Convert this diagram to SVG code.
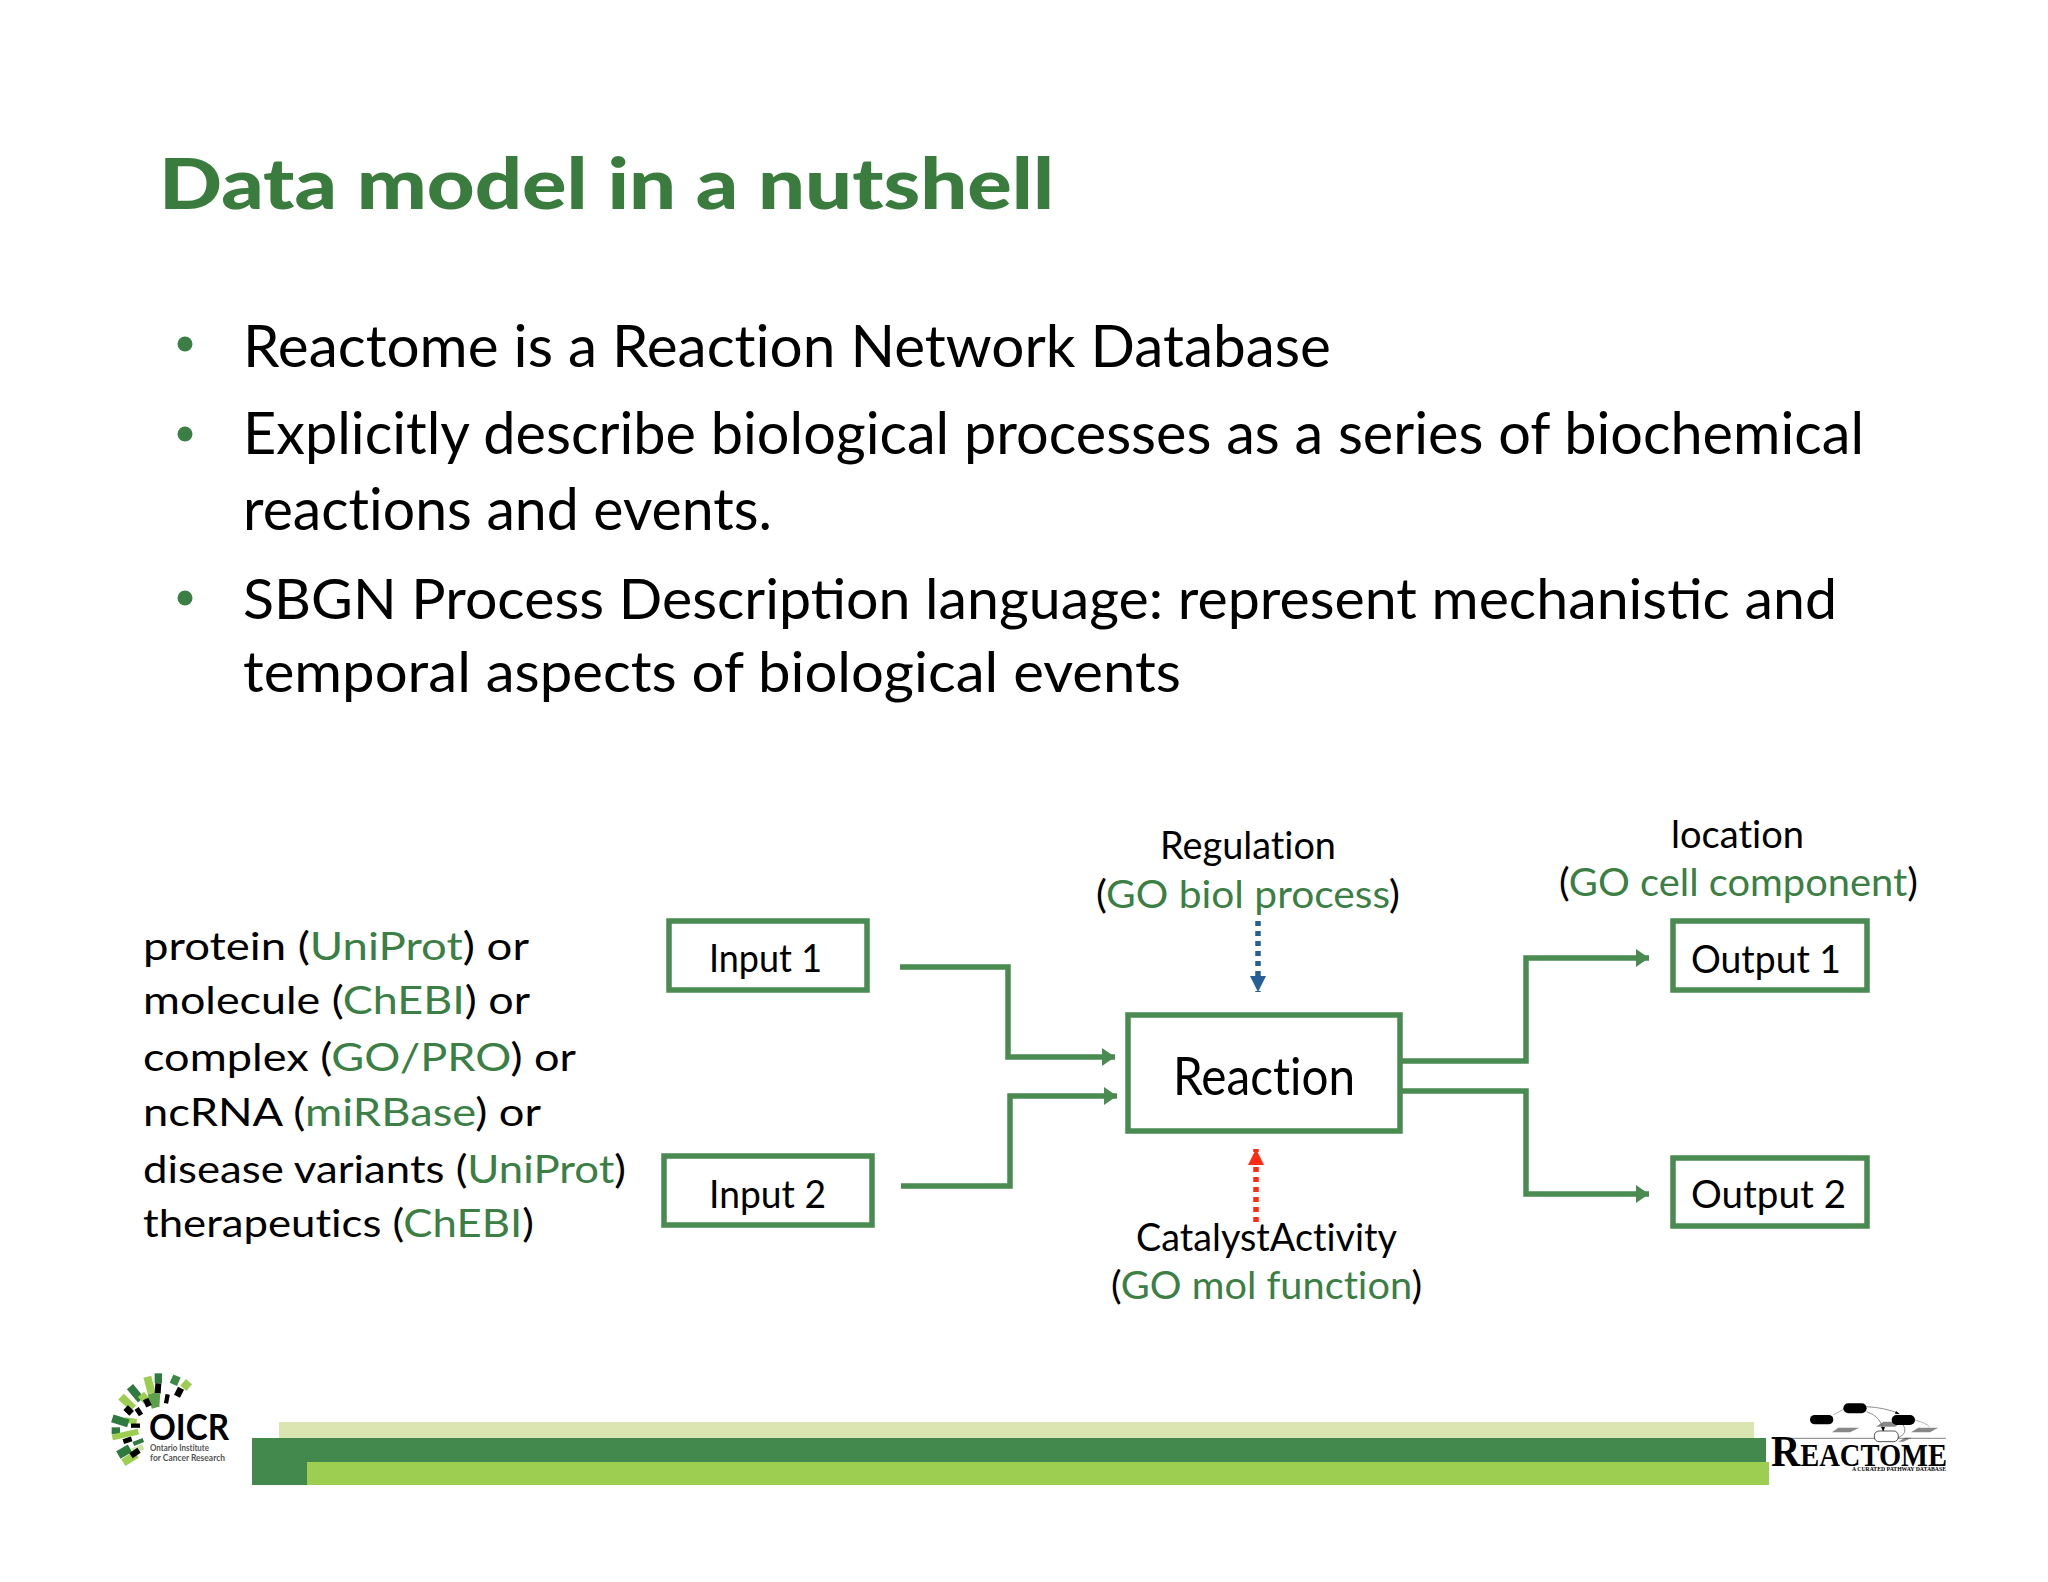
<svg xmlns="http://www.w3.org/2000/svg" width="2048" height="1582" viewBox="0 0 2048 1582">
<style>
text{font-family:"Lato","Liberation Sans",sans-serif;fill:#000;font-variant-ligatures:none}
.g{fill:#3b7f45}
.title{font-size:70px;font-weight:900;fill:#397c3e}
.b{font-size:59px}
.c{font-size:56px;font-variant-ligatures:common-ligatures}
.m{font-size:39.5px}
.box{fill:#fff;stroke:#4a8b52;stroke-width:5.5}
.edge{fill:none;stroke:#4a8b52;stroke-width:5.5}
.ray{fill:none;stroke-width:24}
.serif{font-family:"Liberation Serif",serif;font-weight:700}
</style>
<defs>
<marker id="ag" markerUnits="userSpaceOnUse" markerWidth="14" markerHeight="18" refX="13" refY="9" orient="auto"><path d="M0 0L13 9L0 18Z" fill="#4a8b52"/></marker>
<marker id="ab" markerUnits="userSpaceOnUse" markerWidth="16" markerHeight="16" refX="16" refY="8" orient="auto"><path d="M0 0L16 8L0 16Z" fill="#265f97"/></marker>
<marker id="ar" markerUnits="userSpaceOnUse" markerWidth="16" markerHeight="16" refX="16" refY="8" orient="auto"><path d="M0 0L16 8L0 16Z" fill="#ff2a0f"/></marker>
</defs>
<rect width="2048" height="1582" fill="#fff"/>
<g id="heading">
<text class="title" x="159" y="209" textLength="895" lengthAdjust="spacingAndGlyphs">Data model in a nutshell</text>
</g>
<g id="bullets">
<circle cx="185" cy="344" r="7.5" fill="#3b7f45"/>
<circle cx="185" cy="434" r="7.5" fill="#3b7f45"/>
<circle cx="185" cy="598" r="7.5" fill="#3b7f45"/>
<text class="b" x="243" y="367" textLength="1088" lengthAdjust="spacingAndGlyphs">Reactome is a Reaction Network Database</text>
<text class="b" x="243" y="454" textLength="1621" lengthAdjust="spacingAndGlyphs">Explicitly describe biological processes as a series of biochemical</text>
<text class="b" x="243" y="530" textLength="529" lengthAdjust="spacingAndGlyphs">reactions and events.</text>
<text class="c" x="243" y="619" textLength="1594" lengthAdjust="spacingAndGlyphs">SBGN Process Description language: represent mechanistic and</text>
<text class="c" x="243" y="692" textLength="938" lengthAdjust="spacingAndGlyphs">temporal aspects of biological events</text>
</g>
<g id="entity-list">
<text class="m" x="143" y="960" textLength="386" lengthAdjust="spacingAndGlyphs">protein (<tspan class="g">UniProt</tspan>) or</text>
<text class="m" x="143" y="1014" textLength="387" lengthAdjust="spacingAndGlyphs">molecule (<tspan class="g">ChEBI</tspan>) or</text>
<text class="m" x="143" y="1071" textLength="433" lengthAdjust="spacingAndGlyphs">complex (<tspan class="g">GO/PRO</tspan>) or</text>
<text class="m" x="143" y="1126" textLength="398" lengthAdjust="spacingAndGlyphs">ncRNA (<tspan class="g">miRBase</tspan>) or</text>
<text class="m" x="143" y="1183" textLength="483" lengthAdjust="spacingAndGlyphs">disease variants (<tspan class="g">UniProt</tspan>)</text>
<text class="m" x="143" y="1237" textLength="391" lengthAdjust="spacingAndGlyphs">therapeutics (<tspan class="g">ChEBI</tspan>)</text>
</g>
<g id="connectors">
<path class="edge" marker-end="url(#ag)" d="M900 967H1008V1057H1115"/>
<path class="edge" marker-end="url(#ag)" d="M901 1186H1010V1096H1117"/>
<path class="edge" marker-end="url(#ag)" d="M1402 1061H1526V958H1649"/>
<path class="edge" marker-end="url(#ag)" d="M1402 1091H1526V1194H1649"/>
<path fill="none" stroke="#265f97" stroke-width="5.5" stroke-dasharray="5 5" marker-end="url(#ab)" d="M1258 921V992"/>
<path fill="none" stroke="#ff2a0f" stroke-width="5.5" stroke-dasharray="5 5" marker-end="url(#ar)" d="M1256 1222V1149"/>
</g>
<g id="input1"><rect class="box" x="669" y="921" width="198" height="69"/><text class="m" x="709" y="972" textLength="113" lengthAdjust="spacingAndGlyphs">Input 1</text></g>
<g id="input2"><rect class="box" x="664" y="1156" width="208" height="69"/><text class="m" x="709" y="1208" textLength="117" lengthAdjust="spacingAndGlyphs">Input 2</text></g>
<g id="reaction"><rect class="box" x="1128" y="1015" width="272" height="116"/><text x="1173" y="1095" font-size="52" textLength="182" lengthAdjust="spacingAndGlyphs">Reaction</text></g>
<g id="output1"><rect class="box" x="1673" y="921" width="194" height="69"/><text class="m" x="1691" y="973" textLength="150" lengthAdjust="spacingAndGlyphs">Output 1</text></g>
<g id="output2"><rect class="box" x="1673" y="1158" width="194" height="68"/><text class="m" x="1691" y="1208" textLength="155" lengthAdjust="spacingAndGlyphs">Output 2</text></g>
<g id="regulation-label">
<text class="m" x="1160" y="859" textLength="176" lengthAdjust="spacingAndGlyphs">Regulation</text>
<text class="m" x="1096" y="908" textLength="304" lengthAdjust="spacingAndGlyphs">(<tspan class="g">GO biol process</tspan>)</text>
</g>
<g id="location-label">
<text class="m" x="1671" y="848" textLength="133" lengthAdjust="spacingAndGlyphs">location</text>
<text class="m" x="1559" y="896" textLength="359" lengthAdjust="spacingAndGlyphs">(<tspan class="g">GO cell component</tspan>)</text>
</g>
<g id="catalyst-label">
<text class="m" x="1136" y="1251" textLength="261" lengthAdjust="spacingAndGlyphs">CatalystActivity</text>
<text class="m" x="1111" y="1299" textLength="311" lengthAdjust="spacingAndGlyphs">(<tspan class="g">GO mol function</tspan>)</text>
</g>
<g id="footer-bars">
<rect x="279" y="1422" width="1475" height="16" fill="#dbe5b1"/>
<rect x="252" y="1438" width="1514" height="24" fill="#43894d"/>
<rect x="252" y="1462" width="55" height="23" fill="#43894d"/>
<rect x="307" y="1462" width="1462" height="23" fill="#9dce52"/>
</g>
<g id="oicr-logo">
<g transform="translate(105 1365) scale(.3333)">
<g class="ray">
<path stroke="#9dce52" d="M127 35L140 85"/><path stroke="#5da04a" d="M140 85L152 128"/>
<path stroke="#2f7a3f" stroke-width="22" d="M160 25V55"/><path stroke="#000" stroke-width="18" d="M160 55L158 85"/><path stroke="#5da04a" stroke-width="16" d="M158 85L155 125"/>
<path stroke="#3d8a47" d="M216 33L205 58"/><path stroke="#9dce52" d="M252 50L235 70"/><path stroke="#000" stroke-width="20" d="M228 70L216 94"/>
<path stroke="#000" stroke-width="13" d="M188 88L183 115"/>
<path stroke="#2f7a3f" d="M75 65L108 105"/><path stroke="#9dce52" d="M108 88L125 108"/><path stroke="#000" stroke-width="18" d="M122 102L132 124"/>
<path stroke="#9dce52" d="M48 95L85 130"/><path stroke="#000" stroke-width="20" d="M62 128L80 145"/><path stroke="#000" stroke-width="15" d="M95 130L108 150"/>
<path stroke="#9dce52" stroke-width="16" d="M60 165L95 170"/><path stroke="#2f7a3f" d="M22 160L70 175"/><path stroke="#000" stroke-width="13" d="M78 182H105"/>
<path stroke="#2f7a3f" stroke-width="20" d="M20 197H45"/><path stroke="#9dce52" stroke-width="18" d="M22 217L100 200"/><path stroke="#000" stroke-width="15" d="M55 230L80 222"/><path stroke="#2f7a3f" stroke-width="13" d="M85 237L115 225"/>
<path stroke="#cfe3a0" stroke-width="16" d="M82 258L115 245"/>
<path stroke="#9dce52" d="M55 293L95 268"/><path stroke="#2f7a3f" stroke-width="26" d="M40 270L75 250"/><path stroke="#000" stroke-width="18" d="M78 272L102 256"/>
</g>
</g>
<text x="149" y="1440" font-size="36" font-weight="700" textLength="80" lengthAdjust="spacingAndGlyphs">OICR</text>
<text x="150" y="1451" font-size="10" font-weight="700" style="fill:#555" textLength="59" lengthAdjust="spacingAndGlyphs">Ontario Institute</text>
<text x="150" y="1461" font-size="10" font-weight="700" style="fill:#555" textLength="75" lengthAdjust="spacingAndGlyphs">for Cancer Research</text>
</g>
<g id="reactome-logo">
<g transform="translate(1770 1395) scale(.3333)">
<path d="M186 112L205 98H268L240 112ZM318 95L340 80H400L375 95ZM423 112L445 98H505L480 112ZM385 140L405 128H425L400 140Z" fill="#888"/>
<path d="M190 60L222 42M435 75Q470 85 478 95" fill="none" stroke="#888" stroke-width="2"/>
<path d="M290 35Q345 38 385 55M290 50Q335 65 340 108M400 90Q415 115 385 128" fill="none" stroke="#555" stroke-width="2"/>
<path d="M378 48L390 58L375 56ZM333 96L345 96L340 110Z" fill="#000"/>
<rect x="120" y="60" width="70" height="28" rx="14" fill="#000"/>
<rect x="220" y="25" width="70" height="30" rx="15" fill="#000"/>
<rect x="365" y="60" width="70" height="30" rx="15" fill="#000"/>
<path d="M5 130H528" stroke="#444" stroke-width="2"/>
<rect x="313" y="108" width="72" height="32" rx="14" fill="#fff" stroke="#000" stroke-width="2"/>
</g>
<text class="serif" x="1771" y="1466" font-size="31" textLength="176" lengthAdjust="spacingAndGlyphs"><tspan font-size="44">R</tspan>EACTOME</text>
<text class="serif" x="1852" y="1471" font-size="7" textLength="94" lengthAdjust="spacingAndGlyphs">A CURATED PATHWAY DATABASE</text>
</g>
</svg>
